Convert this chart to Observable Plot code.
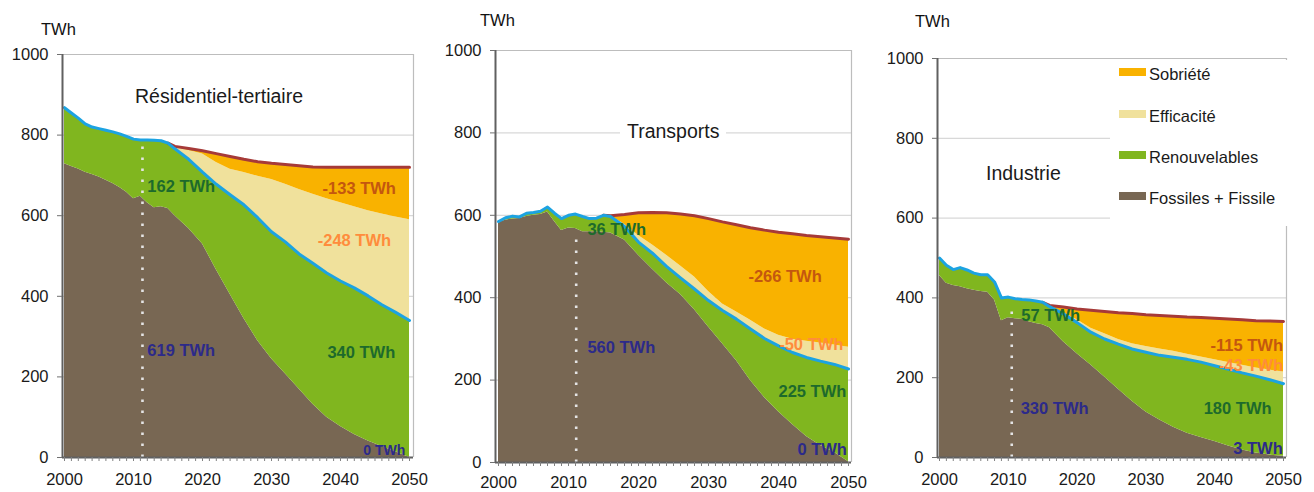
<!DOCTYPE html>
<html>
<head>
<meta charset="utf-8">
<script src="https://cdn.jsdelivr.net/npm/d3@7"></script>
<script src="https://cdn.jsdelivr.net/npm/@observablehq/plot@0.6"></script>
<style>
  body { margin: 0; background: #fff; font-family: "Liberation Sans", Arial, sans-serif; }
  #root { position: relative; width: 1314px; height: 492px; overflow: hidden; background: #fff; }
  .panel { position: absolute; top: 0; }
  .unit { position: absolute; font-size: 16.5px; line-height: 18px; color: #111; white-space: nowrap; }
  .title { position: absolute; font-size: 19.5px; line-height: 20px; color: #1a1a1a; background: #fff; white-space: nowrap; }
  .legend { position: absolute; left: 1110px; top: 60px; width: 200px; height: 166px; background: #fff; }
  .sw { position: absolute; width: 27px; height: 8px; }
  .lt { position: absolute; font-size: 16.5px; line-height: 18px; color: #1a1a1a; white-space: nowrap; }
</style>
</head>
<body>
<div id="root"></div>
<script>
// ---------- data (TWh) ----------
const years = [2000,2001,2002,2003,2004,2005,2006,2007,2008,2009,2010,2011,2012,2013,2014,2015,2016,
               2018,2020,2022,2024,2026,2028,2030,2032,2034,2036,2038,2040,2042,2044,2046,2048,2050];

const seriesNames = ["Fossiles + Fissile", "Renouvelables", "Efficacité", "Sobriété"];
const legendOrder = ["Sobriété", "Efficacité", "Renouvelables", "Fossiles + Fissile"];
const panelTitles = ["Résidentiel-tertiaire", "Transports", "Industrie"];
const unitLabel = "TWh";
const yTicks = [0, 200, 400, 600, 800, 1000];
const xTicks = [2000, 2010, 2020, 2030, 2040, 2050];

// Résidentiel-tertiaire
const residFossiles      = [729,722,716,708,702,696,688,680,670,658,642,648,632,620,622,618,600, 568,530,466,405,345,290,245,208,170,132,100,77,57,41,27,14,0];
const residRenouvelables = [139,133,126,120,118,120,124,128,133,139,148,140,156,167,164,162,166, 172,178,212,247,282,305,315,327,335,350,358,361,364,360,352,346,340];
const residEfficacite    = [0,0,0,0,0,0,0,0,0,0,0,0,0,0,0,0,4, 22,45,54,63,80,103,130,143,160,171,184,194,201,211,225,237,250];
const residSobriete      = [0,0,0,0,0,0,0,0,0,0,0,0,0,0,0,0,2, 5,8,22,32,33,36,40,49,59,68,78,88,98,108,116,123,130];
const residLabels = ["162 TWh", "619 TWh", "-133 TWh", "-248 TWh", "340 TWh", "0 TWh"];

// Transports
const transFossiles      = [583,588,591,592,597,600,602,608,585,563,569,568,560,560,560,559,557, 540,503,469,436,408,371,329,288,247,199,158,123,92,63,41,24,2];
const transRenouvelables = [2,6,7,4,8,7,8,12,20,29,31,35,37,32,33,41,40, 33,32,39,40,40,50,64,81,101,125,143,160,175,192,205,214,225];
const transEfficacite    = [0,0,0,0,0,0,0,0,0,0,0,0,0,0,0,0,1, 5,16,20,27,29,29,22,16,17,21,23,26,32,39,44,47,53];
const transSobriete      = [0,0,0,0,0,0,0,0,0,0,0,0,0,0,0,0,1, 24,55,79,103,126,149,177,199,212,225,240,250,256,257,258,260,262];
const transLabels = ["36 TWh", "560 TWh", "-266 TWh", "-50 TWh", "225 TWh", "0 TWh"];

// Industrie
const indusFossiles      = [456,437,431,428,423,419,416,414,395,343,350,348,346,340,336,333,325, 290,260,232,202,171,141,114,94,76,61,50,40,29,19,11,6,3];
const indusRenouvelables = [44,45,40,48,47,43,42,44,45,57,52,50,50,55,56,56,53, 70,78,82,95,113,131,150,162,175,185,189,190,192,193,193,189,182];
const indusEfficacite    = [0,0,0,0,0,0,0,0,0,0,0,0,0,0,0,0,1, 3,7,10,13,12,13,14,16,15,13,13,15,17,19,20,24,29];
const indusSobriete      = [0,0,0,0,0,0,0,0,0,0,0,0,0,0,0,0,2, 14,27,45,56,67,76,80,84,88,93,99,104,109,114,119,123,127];
const indusLabels = ["57 TWh", "330 TWh", "-115 TWh", "-43 TWh", "180 TWh", "3 TWh"];

// ---------- styling ----------
const areaColors = ["#786753", "#80b61f", "#f0e19c", "#f9b200"];
const FONT = '"Liberation Sans", Arial, sans-serif';
const C_RENEW = "#1d6a2c", C_FOSS = "#2c2a8a", C_SOB = "#c4570f", C_EFF = "#ff8c3c";
const labelColors = [C_RENEW, C_FOSS, C_SOB, C_EFF, C_RENEW, C_FOSS];

const panels = [
  { left: 0, width: 430, mL: 62, mR: 17, mT: 54, mB: 35, xDomain: [1999.71, 2050.58], xPad: 12,
    refYear: 2011.3, dotTop: 782,
    values: [residFossiles, residRenouvelables, residEfficacite, residSobriete],
    labels: residLabels,
    labelPos: [[2012.0, 658], [2012.0, 253], [2037.4, 655], [2036.7, 526], [2038.1, 246], [2043.3, 5]],
    labelSize: [16.5, 16.5, 16.5, 16.5, 16.5, 14],
    unit: [41, 20], title: [135, 86] },
  { left: 430, width: 440, mL: 65, mR: 19, mT: 50, mB: 30, xDomain: [1999.571, 2050.429], xPad: 10,
    refYear: 2011.1, dotTop: 556,
    values: [transFossiles, transRenouvelables, transEfficacite, transSobriete],
    labels: transLabels,
    labelPos: [[2012.7, 553], [2012.7, 265], [2035.7, 437], [2040.1, 272], [2040.0, 158], [2042.7, 17]],
    labelSize: [16.5, 16.5, 16.5, 16.5, 16.5, 16.5],
    unit: [480, 11], title: [620, 121], titlePad: 7 },
  { left: 870, width: 444, mL: 67, mR: 28, mT: 58, mB: 35, xDomain: [1999.709, 2050.436], xPad: 12,
    refYear: 2010.5, dotTop: 374,
    values: [indusFossiles, indusRenouvelables, indusEfficacite, indusSobriete],
    labels: indusLabels,
    labelPos: [[2011.9, 341], [2011.8, 110], [2039.4, 268], [2040.6, 218], [2038.4, 110], [2042.7, 10]],
    labelSize: [16.5, 16.5, 16.5, 16.5, 16.5, 16.5],
    unit: [915, 12], title: [986, 163] }
];

const root = document.getElementById("root");

panels.forEach((p, k) => {
  const stack = [];
  seriesNames.forEach((s, j) => years.forEach((yr, i) => stack.push({ year: yr, serie: s, value: p.values[j][i] })));
  const finale = years.map((yr, i) => ({ year: yr, value: p.values[0][i] + p.values[1][i] }));
  const tendance = years
    .map((yr, i) => ({ year: yr, value: p.values[0][i] + p.values[1][i] + p.values[2][i] + p.values[3][i] }))
    .filter(d => d.year >= 2015);
  const lab = p.labels.map((t, i) => ({ text: t, x: p.labelPos[i][0], y: p.labelPos[i][1], c: labelColors[i], s: p.labelSize[i] }));

  const svg = Plot.plot({
    width: p.width, height: 492,
    marginLeft: p.mL, marginRight: p.mR, marginTop: p.mT, marginBottom: p.mB,
    style: { fontFamily: FONT, fontSize: "16.5px", color: "#1a1a1a", background: "transparent", overflow: "visible" },
    x: { domain: p.xDomain, axis: null },
    y: { domain: [0, 1000], axis: null },
    color: { domain: seriesNames, range: areaColors },
    marks: [
      Plot.ruleY([200, 400, 600, 800], { stroke: "#d8d8d8", strokeWidth: 1.2 }),
      Plot.ruleY([1000], { stroke: "#bdbdbd", strokeWidth: 1.2 }),
      Plot.ruleX([p.xDomain[1]], { stroke: "#bdbdbd", strokeWidth: 1.2 }),
      Plot.areaY(stack, { x: "year", y: "value", fill: "serie", curve: "linear" }),
      Plot.ruleX([p.refYear], { y1: 0, y2: p.dotTop, stroke: "#e4e4e4", strokeWidth: 2.6, strokeDasharray: "2.6,8.4" }),
      Plot.lineY(tendance, { x: "year", y: "value", stroke: "#a63a38", strokeWidth: 3, strokeLinejoin: "round" }),
      Plot.lineY(finale, { x: "year", y: "value", stroke: "#1ca3e2", strokeWidth: 3, strokeLinejoin: "round" }),
      Plot.text(lab, { x: "x", y: "y", text: "text", fill: "c", fontSize: "s", fontWeight: "bold",
                       textAnchor: "start", lineAnchor: "bottom" }),
      Plot.ruleX([p.xDomain[0]], { stroke: "#606060", strokeWidth: 2 }),
      Plot.ruleY([0], { stroke: "#606060", strokeWidth: 2 }),
      Plot.axisY(yTicks, { tickSize: 5, tickPadding: 9, stroke: "#707070", fill: "#1a1a1a",
        tickFormat: d => String(d) }),
      Plot.axisX(d3.range(2000, 2051), { tickSize: 4, tickPadding: p.xPad, stroke: "#808080", fill: "#1a1a1a",
        tickFormat: d => (xTicks.includes(d) ? String(d) : "") })
    ]
  });
  svg.classList.add("panel");
  svg.style.left = p.left + "px";
  root.appendChild(svg);

  const u = document.createElement("div");
  u.className = "unit";
  u.textContent = unitLabel;
  u.style.left = p.unit[0] + "px";
  u.style.top = p.unit[1] + "px";
  root.appendChild(u);

  const t = document.createElement("div");
  t.className = "title";
  t.textContent = panelTitles[k];
  t.style.left = p.title[0] + "px";
  t.style.top = p.title[1] + "px";
  if (p.titlePad) t.style.padding = `0 ${p.titlePad}px`;
  root.appendChild(t);
});

// legend (in Industrie panel)
const leg = document.createElement("div");
leg.className = "legend";
root.appendChild(leg);
const legTops = [68, 110, 151, 192];
legendOrder.forEach((name, i) => {
  const sw = document.createElement("div");
  sw.className = "sw";
  sw.style.left = "1119px";
  sw.style.top = legTops[i] + "px";
  sw.style.background = areaColors[seriesNames.indexOf(name)];
  root.appendChild(sw);
  const lt = document.createElement("div");
  lt.className = "lt";
  lt.textContent = name;
  lt.style.left = "1149px";
  lt.style.top = (legTops[i] - 3) + "px";
  root.appendChild(lt);
});
</script>
</body>
</html>
